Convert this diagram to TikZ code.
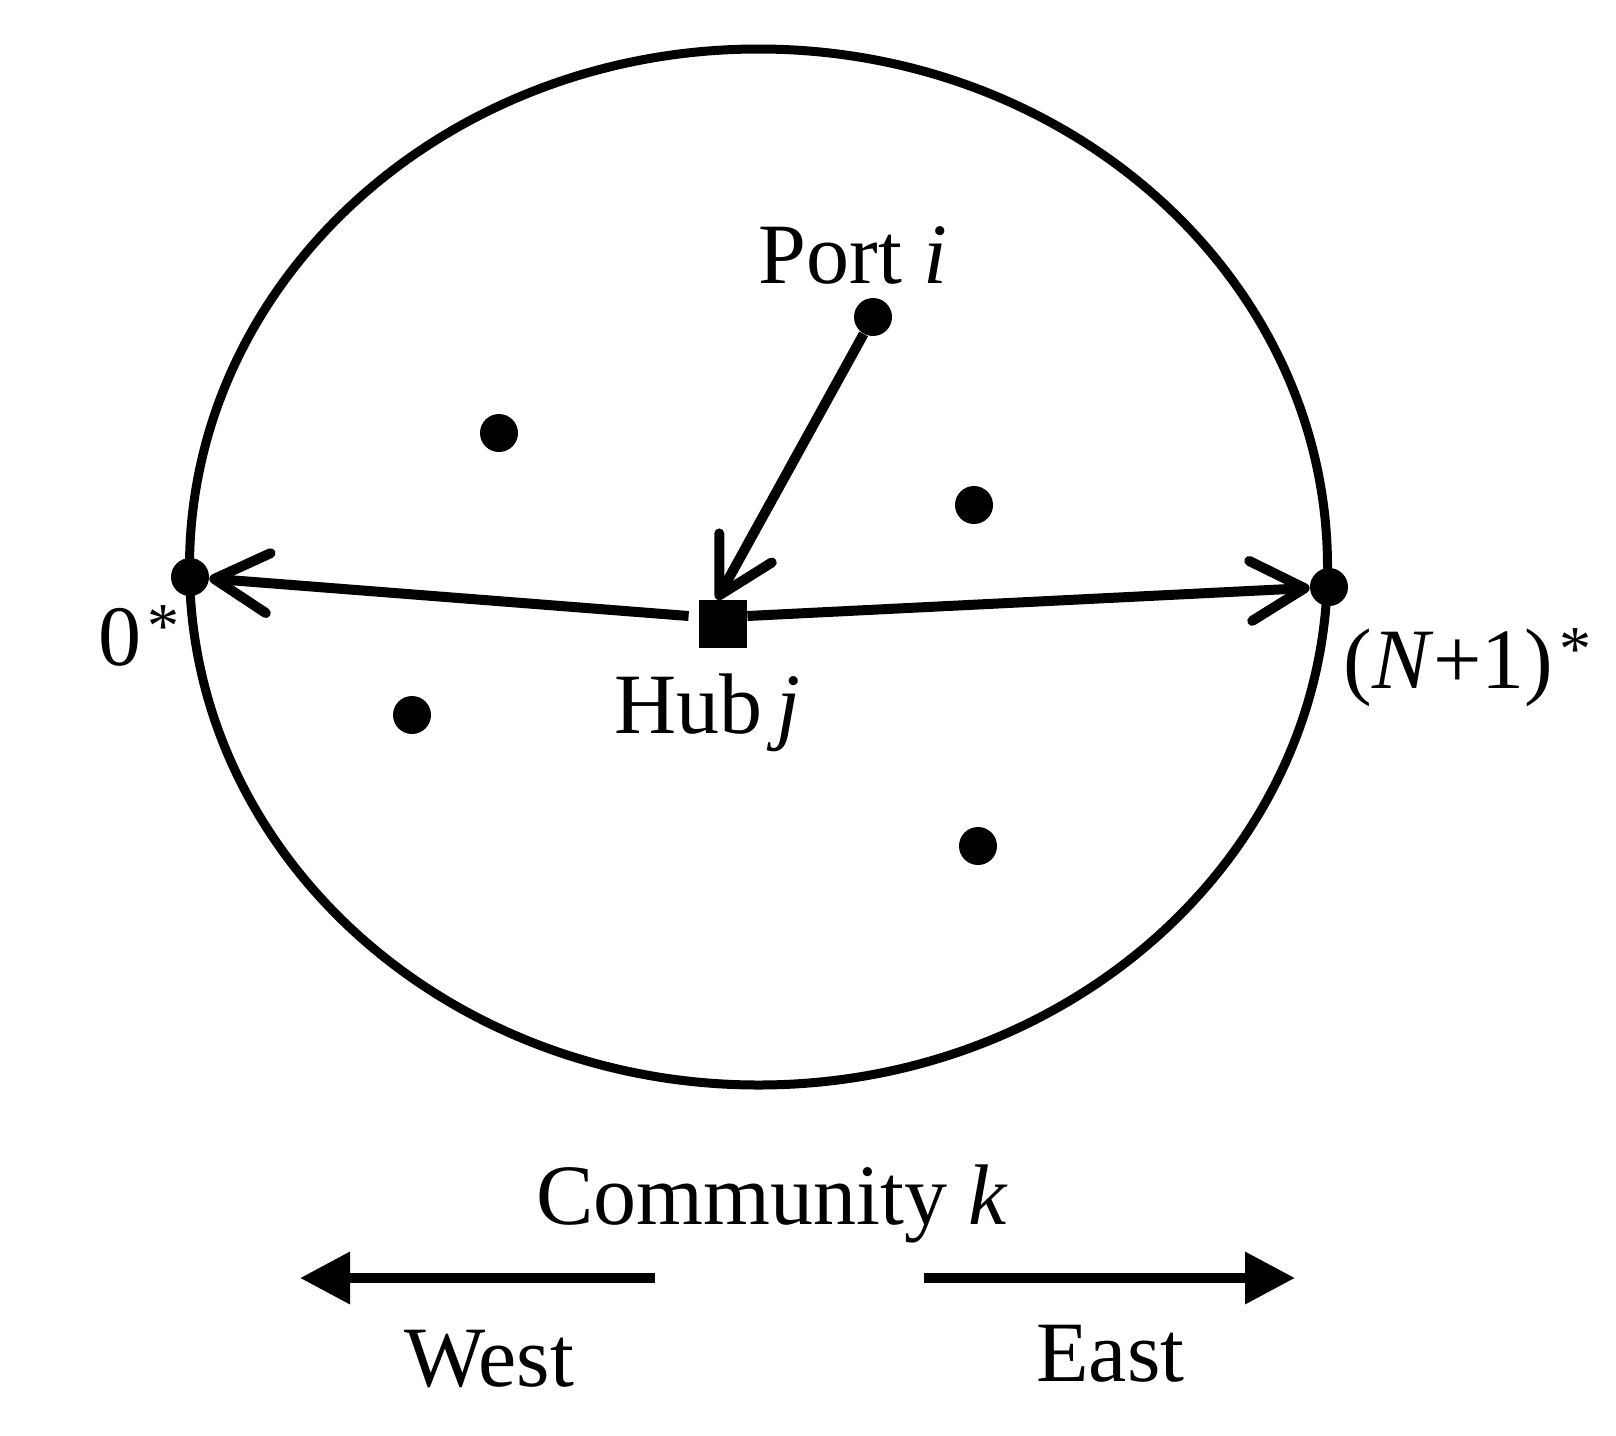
\documentclass[tikz,border=0pt]{standalone}
\usepackage{fontspec}
\setmainfont{Liberation Serif}
\usetikzlibrary{arrows.meta}
\newcommand{\upstar}{\kern3pt\raisebox{9pt}{\fontsize{32}{32}\selectfont *}}
\begin{document}
\begin{tikzpicture}[x=0.5pt,y=-0.5pt,
  lbl/.style={inner sep=0pt, font=\fontsize{43}{50}\selectfont},
  dot/.style={circle, fill=black, inner sep=0pt, minimum size=19pt},
  hubsq/.style={rectangle, fill=black, inner sep=0pt, minimum size=24pt},
  conn/.style={line width=5pt, -{Straight Barb[length=27pt,width=30pt,line cap=round,line join=round]}},
  bigarrow/.style={line width=5pt, -{Triangle[length=25pt,width=25pt]}}
]
\useasboundingbox (0,0) rectangle (1616,1435);
\draw[line width=4.5pt] (758.5,567) ellipse [x radius=569, y radius=518];

\node[dot] (o) at (190,577) {};
\node[dot] (n) at (1329,587) {};
\node[dot] (port) at (873,317) {};
\node[dot] (d1) at (499,433) {};
\node[dot] (d2) at (974,505) {};
\node[dot] (d3) at (412,715) {};
\node[dot] (d4) at (978,846) {};
\node[hubsq] (hub) at (723,624) {};

\draw[conn] ([xshift=-5pt,yshift=4pt]hub.west) -- (o);
\draw[conn] ([yshift=4pt]hub.east) -- (n);
\draw[conn] (port) -- ([xshift=-3pt]hub.north);

\node[lbl, anchor=base] (portlbl) at (853,283) {Port \textit{i}};
\node[lbl, anchor=base west] (hublbl) at (614,733) {Hub\,\textit{j}};
\node[lbl, anchor=base west] (olbl) at (98,665) {0\upstar};
\node[lbl, anchor=base west] (nlbl) at (1343,688) {(\textit{N}+1)\upstar};
\node[lbl, anchor=base west] (comm) at (536,1224) {Community \textit{k}};
\node[lbl, anchor=base west] (west) at (404,1386) {West};
\node[lbl, anchor=base west] (east) at (1036,1381) {East};

\coordinate (wl) at (655,1278);
\coordinate (wr) at (300,1278);
\draw[bigarrow] (wl) -- (wr);
\coordinate (el) at (924,1278);
\coordinate (er) at (1295,1278);
\draw[bigarrow] (el) -- (er);
\end{tikzpicture}
\end{document}
